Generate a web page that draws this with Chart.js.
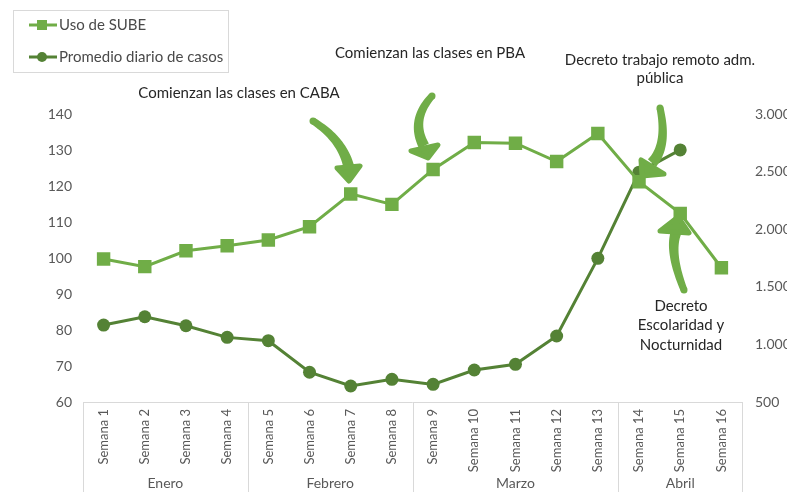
<!DOCTYPE html>
<html>
<head>
<meta charset="utf-8">
<script src="https://cdn.jsdelivr.net/npm/chart.js@4"></script>
<style>
  html, body { margin: 0; padding: 0; background: #fff; }
  #wrap { width: 787px; height: 492px; position: relative; }
</style>
</head>
<body>
<div id="wrap"><canvas id="grafico" width="787" height="492"></canvas></div>
<script>
// datos
const semanas = ['Semana 1', 'Semana 2', 'Semana 3', 'Semana 4', 'Semana 5', 'Semana 6', 'Semana 7', 'Semana 8',
    'Semana 9', 'Semana 10', 'Semana 11', 'Semana 12', 'Semana 13', 'Semana 14', 'Semana 15', 'Semana 16'];
const meses = ['Enero', 'Febrero', 'Marzo', 'Abril'];
const semanasPorMes = [4, 4, 5, 3];
const usoSube = [99.7, 97.6, 102.0, 103.4, 105.0, 108.7, 117.8, 114.9, 124.6, 132.1, 131.9, 126.8, 134.6, 121.2, 112.4, 97.3];
const promedioCasos = [1168, 1240, 1162, 1061, 1032, 758, 639, 697, 653, 778, 827, 1073, 1747, 2495, 2688, null];
const ticksIzq = { min: 60, max: 140, paso: 10 };
const ticksDer = { min: 500, max: 3000, paso: 500 };

const VERDE = '#70AD47';
const VERDE_OSC = '#548235';
const FUENTE = 'Lato';
const GRIS_EJE = '#d9d9d9';

// anotaciones (texto + flechas), en pixeles
const anotaciones = [
    { lineas: ['Comienzan las clases en CABA'], x: 239, y: 93 },
    { lineas: ['Comienzan las clases en PBA'], x: 430, y: 53 },
    { lineas: ['Decreto trabajo remoto adm.', 'pública'], x: 660, y: 60, dy: 18 },
    { lineas: ['Decreto', 'Escolaridad y', 'Nocturnidad'], x: 681, y: 306, dy: 19.5 }
];
const flechas = [
    { p0: [313, 121], c: [343, 140], p1: [349, 168], alas: [[337, 168], [360, 166]], punta: [349, 181] },
    { p0: [432, 96], c: [410, 120], p1: [424, 146], alas: [[411, 151], [438, 145]], punta: [428, 158] },
    { p0: [660, 108], c: [668, 145], p1: [652, 163], alas: [[641, 160], [664, 174]], punta: [642, 176] },
    { p0: [684, 290], c: [668, 250], p1: [677, 230], alas: [[660, 231], [689, 233]], punta: [678, 217] }
];

function fmtMiles(v) {
    return v.toLocaleString('es-AR');
}

// trazo curvo que se ensancha hacia la punta
function trazoAfinado(ctx, f) {
    const N = 24;
    const izq = [], der = [];
    for (let i = 0; i <= N; i++) {
        const t = i / N, u = 1 - t;
        const px = u * u * f.p0[0] + 2 * u * t * f.c[0] + t * t * f.p1[0];
        const py = u * u * f.p0[1] + 2 * u * t * f.c[1] + t * t * f.p1[1];
        const dx = 2 * u * (f.c[0] - f.p0[0]) + 2 * t * (f.p1[0] - f.c[0]);
        const dy = 2 * u * (f.c[1] - f.p0[1]) + 2 * t * (f.p1[1] - f.c[1]);
        const len = Math.hypot(dx, dy) || 1;
        const nx = -dy / len, ny = dx / len;
        const w = 3.5 + 2 * t;
        izq.push([px + nx * w, py + ny * w]);
        der.push([px - nx * w, py - ny * w]);
    }
    ctx.beginPath();
    ctx.moveTo(izq[0][0], izq[0][1]);
    izq.forEach(p => ctx.lineTo(p[0], p[1]));
    der.reverse().forEach(p => ctx.lineTo(p[0], p[1]));
    ctx.closePath();
    ctx.fill();
    ctx.beginPath();
    ctx.arc(f.p0[0], f.p0[1], 3.5, 0, Math.PI * 2);
    ctx.fill();
}

const extrasPlugin = {
    id: 'extras',
    beforeDatasetsDraw(chart) {
        const ctx = chart.ctx;
        const x = chart.scales.x;
        const area = chart.chartArea;
        ctx.save();
        ctx.strokeStyle = GRIS_EJE;
        ctx.lineWidth = 1;
        ctx.beginPath();
        ctx.moveTo(area.left, area.bottom + 0.5);
        ctx.lineTo(area.right, area.bottom + 0.5);
        // separadores de meses
        let idx = 0;
        const bordes = [0];
        semanasPorMes.forEach(n => { idx += n; bordes.push(idx); });
        const paso = x.getPixelForValue(1) - x.getPixelForValue(0);
        bordes.forEach(b => {
            const px = Math.round(x.getPixelForValue(b) - paso / 2) + 0.5;
            ctx.moveTo(px, area.bottom);
            ctx.lineTo(px, chart.height);
        });
        ctx.stroke();

        ctx.fillStyle = '#595959';
        ctx.font = '14px ' + FUENTE;
        ctx.textAlign = 'center';
        ctx.textBaseline = 'middle';
        for (let i = 0; i < meses.length; i++) {
            const a = x.getPixelForValue(bordes[i]) - paso / 2;
            const b = x.getPixelForValue(bordes[i + 1]) - paso / 2;
            ctx.fillText(meses[i], (a + b) / 2, 483);
        }

        // leyenda
        ctx.strokeStyle = GRIS_EJE;
        ctx.strokeRect(13.5, 10.5, 215, 62);
        ctx.lineWidth = 3;
        ctx.strokeStyle = VERDE;
        ctx.beginPath(); ctx.moveTo(29, 25); ctx.lineTo(57, 25); ctx.stroke();
        ctx.fillStyle = VERDE;
        ctx.fillRect(37, 20, 10, 10);
        ctx.strokeStyle = VERDE_OSC;
        ctx.beginPath(); ctx.moveTo(29, 57); ctx.lineTo(57, 57); ctx.stroke();
        ctx.fillStyle = VERDE_OSC;
        ctx.beginPath(); ctx.arc(42, 57, 5, 0, Math.PI * 2); ctx.fill();
        ctx.fillStyle = '#4a4a4a';
        ctx.font = '15px ' + FUENTE;
        ctx.textAlign = 'left';
        ctx.fillText('Uso de SUBE', 59, 25);
        ctx.fillText('Promedio diario de casos', 59, 57);
        ctx.restore();
    },
    afterDatasetsDraw(chart) {
        const ctx = chart.ctx;
        ctx.save();
        ctx.strokeStyle = VERDE;
        ctx.fillStyle = VERDE;
        ctx.lineCap = 'round';
        ctx.lineJoin = 'round';
        flechas.forEach(f => {
            trazoAfinado(ctx, f);
            ctx.lineWidth = 5;
            ctx.beginPath();
            ctx.moveTo(f.alas[0][0], f.alas[0][1]);
            ctx.lineTo(f.punta[0], f.punta[1]);
            ctx.lineTo(f.alas[1][0], f.alas[1][1]);
            ctx.closePath();
            ctx.fill();
            ctx.stroke();
        });

        ctx.fillStyle = '#262626';
        ctx.font = '15px ' + FUENTE;
        ctx.textAlign = 'center';
        ctx.textBaseline = 'middle';
        anotaciones.forEach(a => {
            a.lineas.forEach((t, i) => ctx.fillText(t, a.x, a.y + i * (a.dy || 0)));
        });
        ctx.restore();
    }
};

new Chart(document.getElementById('grafico'), {
    type: 'line',
    data: {
        labels: semanas,
        datasets: [{
            label: 'Uso de SUBE',
            data: usoSube,
            yAxisID: 'y',
            borderColor: VERDE,
            backgroundColor: VERDE,
            borderWidth: 3,
            pointStyle: 'rect',
            pointRadius: 9.5,
            pointBorderWidth: 0,
            tension: 0
        }, {
            label: 'Promedio diario de casos',
            data: promedioCasos,
            yAxisID: 'y2',
            borderColor: VERDE_OSC,
            backgroundColor: VERDE_OSC,
            borderWidth: 3,
            pointStyle: 'circle',
            pointRadius: 6.5,
            pointBorderWidth: 0,
            tension: 0
        }]
    },
    options: {
        responsive: false,
        animation: false,
        layout: { padding: { top: 114, left: 0, right: 0, bottom: 0 } },
        plugins: { legend: { display: false }, tooltip: { enabled: false } },
        scales: {
            x: {
                offset: true,
                grid: { display: false, drawTicks: false, offset: true },
                border: { display: false },
                ticks: {
                    color: '#595959',
                    font: { family: FUENTE, size: 13 },
                    minRotation: 90,
                    maxRotation: 90,
                    padding: 7,
                    autoSkip: false
                },
                afterFit(s) { s.height = 90; }
            },
            y: {
                position: 'left',
                min: ticksIzq.min,
                max: ticksIzq.max,
                grid: { display: false, drawTicks: false },
                border: { display: false },
                ticks: {
                    stepSize: ticksIzq.paso,
                    color: '#595959',
                    font: { family: FUENTE, size: 14 },
                    padding: 11
                },
                afterFit(s) { s.width = 83; }
            },
            y2: {
                position: 'right',
                min: ticksDer.min,
                max: ticksDer.max,
                grid: { display: false, drawTicks: false },
                border: { display: false },
                ticks: {
                    stepSize: ticksDer.paso,
                    color: '#595959',
                    font: { family: FUENTE, size: 14 },
                    padding: 13,
                    callback: v => fmtMiles(v)
                },
                afterFit(s) { s.width = 45; }
            }
        }
    },
    plugins: [extrasPlugin]
});
</script>
</body>
</html>
